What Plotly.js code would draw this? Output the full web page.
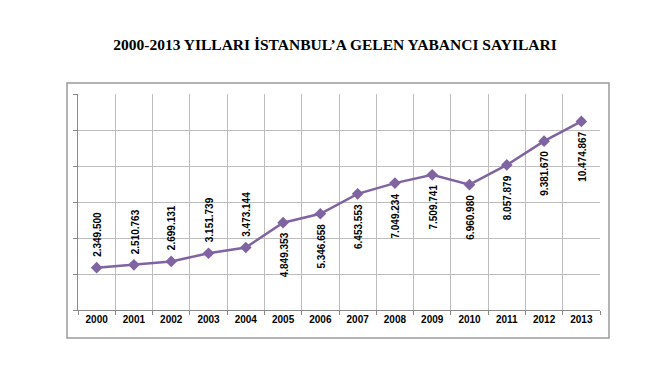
<!DOCTYPE html>
<html>
<head>
<meta charset="utf-8">
<script src="https://cdn.plot.ly/plotly-3.0.1.min.js"></script>
<style>html,body{margin:0;padding:0;background:#fff;}#chart{width:670px;height:375px;}</style>
</head>
<body>
<div id="chart"></div>
<script>
const years = ['2000','2001','2002','2003','2004','2005','2006','2007','2008','2009','2010','2011','2012','2013'];
const visitors = [2349500, 2510763, 2699131, 3151739, 3473144, 4849353, 5346658, 6453553, 7049234, 7509741, 6960980, 8057879, 9381670, 10474867];
const chartTitle = '2000-2013 YILLARI İSTANBUL’A GELEN YABANCI SAYILARI';

function fmt(v) { return String(v).replace(/\B(?=(\d{3})+(?!\d))/g, '.'); }

const purple = '#8064A2';
const annotations = years.map((y, i) => {
  const above = i < 5;
  return {
    x: i, y: visitors[i], xref: 'x', yref: 'y',
    text: fmt(visitors[i]), showarrow: false, textangle: -90,
    xanchor: 'center', yanchor: above ? 'bottom' : 'top',
    xshift: 1, yshift: above ? 9 : -8,
    font: {family: 'Liberation Sans, Arial, sans-serif', size: 10, color: '#000', weight: 'bold'}
  };
});

const trace = {
  x: years, y: visitors, type: 'scatter', mode: 'lines+markers',
  line: {color: purple, width: 2.5},
  marker: {symbol: 'diamond', size: 9, color: purple},
  hoverinfo: 'skip'
};

const layout = {
  width: 670, height: 375,
  margin: {l: 78, r: 70, t: 94, b: 65},
  paper_bgcolor: '#fff', plot_bgcolor: '#fff',
  showlegend: false,
  title: {text: chartTitle, x: 0.5, xanchor: 'center', y: 0.88, yanchor: 'middle',
    font: {family: 'Liberation Serif, Times New Roman, serif', size: 15.5, color: '#000', weight: 'bold'}},
  xaxis: {type: 'category', range: [-0.5, years.length - 0.5], tickson: 'boundaries', showgrid: true, gridcolor: '#bdbdbd', gridwidth: 1,
    ticks: 'outside', ticklen: 4, tickcolor: '#8a8a8a', tickangle: 0,
    showline: true, linecolor: '#8a8a8a', linewidth: 1,
    tickfont: {family: 'Liberation Sans, Arial, sans-serif', size: 10, color: '#000', weight: 'bold'},
    fixedrange: true},
  yaxis: {range: [0, 12000000], dtick: 2000000, showticklabels: false, showgrid: true,
    gridcolor: '#bdbdbd', gridwidth: 1, zeroline: false,
    ticks: 'outside', ticklen: 4, tickcolor: '#8a8a8a',
    showline: true, linecolor: '#8a8a8a', linewidth: 1, fixedrange: true},
  annotations: annotations,
  shapes: [{type: 'rect', xref: 'paper', yref: 'paper', x0: -11/522, x1: 1 + 9/522, y0: -28/216, y1: 1 + 11/216,
    line: {color: '#9a9a9a', width: 1.5}, fillcolor: 'rgba(0,0,0,0)', layer: 'below'}]
};

Plotly.newPlot('chart', [trace], layout, {displayModeBar: false, staticPlot: true});
</script>
</body>
</html>
